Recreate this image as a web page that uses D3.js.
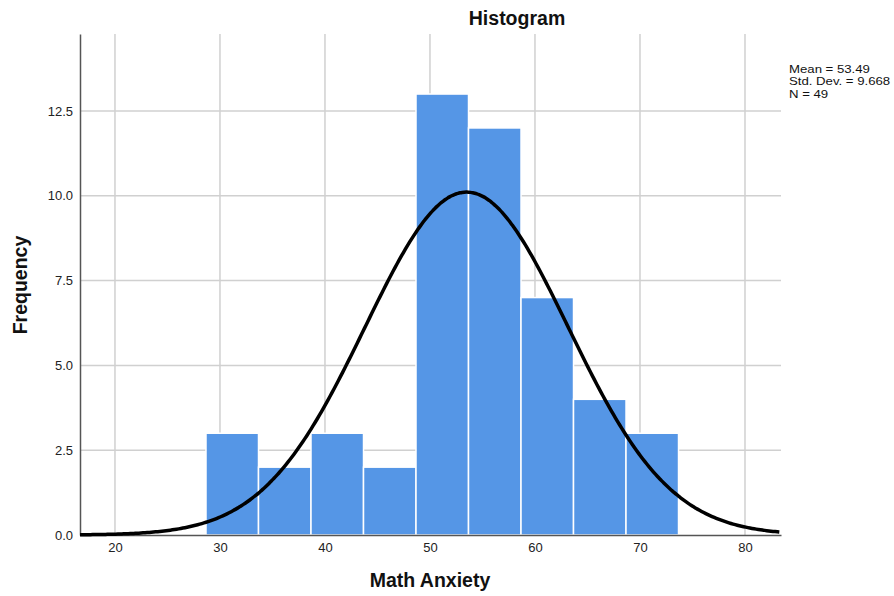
<!DOCTYPE html>
<html><head><meta charset="utf-8">
<script src="https://cdn.jsdelivr.net/npm/d3@7"></script>
<style>body{margin:0;background:#fff}text{font-family:Arial,"Liberation Sans",sans-serif}</style>
</head><body><svg id="c" width="894" height="596"></svg>
<script>
const binStarts = [28.67, 33.67, 38.67, 43.67, 48.67, 53.67, 58.67, 63.67, 68.67];
const binWidth = 5;
const counts = [3, 2, 3, 2, 13, 12, 7, 4, 3];
const xTicks = [20, 30, 40, 50, 60, 70, 80];
const yTicks = [0, 2.5, 5, 7.5, 10, 12.5];
const mean = 53.49, sd = 9.668, N = 49;
const statsLines = ["Mean = 53.49", "Std. Dev. = 9.668", "N = 49"];

const svg = d3.select("#c");
const L = 80, R = 781, T = 34, B = 535;
const x = d3.scaleLinear().domain([16.67, 83.43]).range([L, R]);
const y = d3.scaleLinear().domain([0, 14.77]).range([B, T]);

// grid
svg.append("g").selectAll("line").data(xTicks).join("line")
  .attr("x1", d => x(d)).attr("x2", d => x(d)).attr("y1", T).attr("y2", B)
  .attr("stroke", "#d0d0d0").attr("stroke-width", 1.5);
svg.append("g").selectAll("line").data(yTicks.filter(d => d > 0)).join("line")
  .attr("x1", L).attr("x2", R).attr("y1", d => y(d)).attr("y2", d => y(d))
  .attr("stroke", "#d0d0d0").attr("stroke-width", 1.5);

// bars
svg.append("g").selectAll("rect").data(counts).join("rect")
  .attr("x", (d, i) => x(binStarts[i]))
  .attr("width", (d, i) => x(binStarts[i] + binWidth) - x(binStarts[i]))
  .attr("y", d => y(d)).attr("height", d => B - y(d))
  .attr("fill", "#5596e6").attr("stroke", "#fff").attr("stroke-width", 1.5);

// axes
const xAxis = svg.append("g").attr("transform", `translate(0,${B})`)
  .call(d3.axisBottom(x).tickValues(xTicks).tickSize(0).tickPadding(8));
const yAxis = svg.append("g").attr("transform", `translate(${L},0)`)
  .call(d3.axisLeft(y).tickValues(yTicks).tickFormat(d3.format(".1f")).tickSize(0).tickPadding(7));
[xAxis, yAxis].forEach(a => {
  a.select(".domain").attr("stroke", "#555").attr("stroke-width", 1.5);
  a.selectAll("text").attr("font-size", 13).attr("fill", "#222").attr("font-family", "Arial, 'Liberation Sans', sans-serif");
});

// normal curve
const pdf = v => N * binWidth * Math.exp(-0.5 * ((v - mean) / sd) ** 2) / (sd * Math.sqrt(2 * Math.PI));
const pts = d3.range(16.67, 83.44, 0.2).map(v => [v, pdf(v)]);
svg.append("path").datum(pts)
  .attr("d", d3.line().x(d => x(d[0])).y(d => y(d[1])).curve(d3.curveBasis))
  .attr("fill", "none").attr("stroke", "#000").attr("stroke-width", 3.5);

// titles
svg.append("text").attr("x", 517).attr("y", 25).attr("text-anchor", "middle")
  .attr("font-size", 19.5).attr("font-weight", "bold").attr("fill", "#111").text("Histogram");
svg.append("text").attr("x", 430).attr("y", 587).attr("text-anchor", "middle")
  .attr("font-size", 19.5).attr("font-weight", "bold").attr("fill", "#111").text("Math Anxiety");
svg.append("text").attr("transform", "translate(27,285) rotate(-90)").attr("text-anchor", "middle")
  .attr("font-size", 19.5).attr("font-weight", "bold").attr("fill", "#111").text("Frequency");

svg.append("g").attr("transform", "translate(789,0) scale(1.2,1)")
  .selectAll("text").data(statsLines).join("text")
  .attr("x", 0).attr("y", (d, i) => 73 + i * 12.3).attr("font-size", 11).attr("fill", "#111").text(d => d);
</script></body></html>
